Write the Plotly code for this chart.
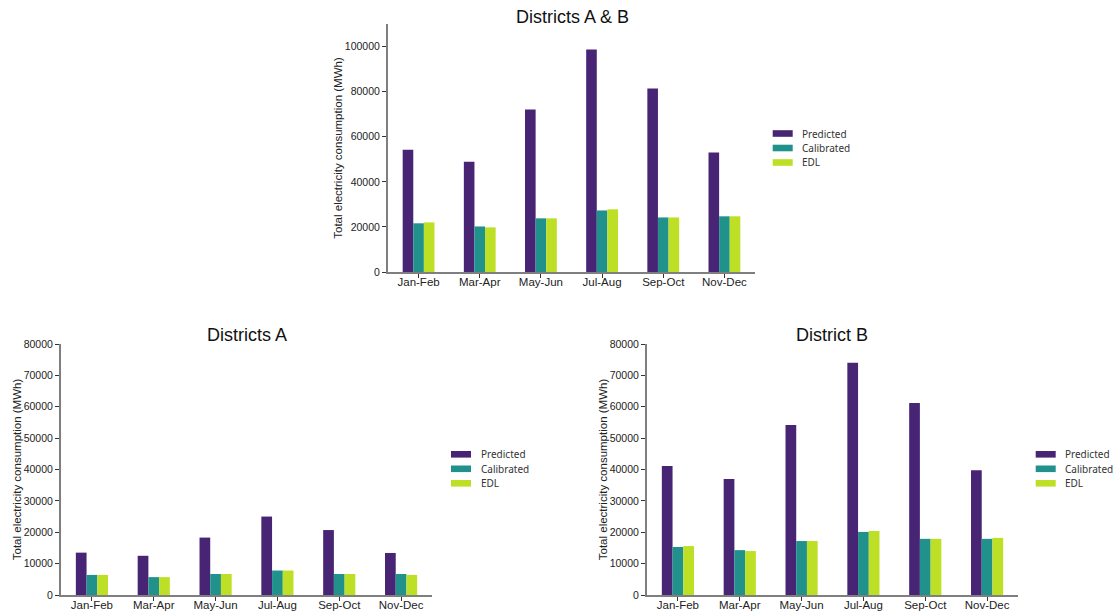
import plotly.graph_objects as go

periods = ["Jan-Feb", "Mar-Apr", "May-Jun", "Jul-Aug", "Sep-Oct", "Nov-Dec"]
series_names = ["Predicted", "Calibrated", "EDL"]
colors = ["#482475", "#21918c", "#bddf26"]

ab_predicted = [54200, 48900, 72100, 98700, 81400, 53000]
ab_calibrated = [21600, 20200, 23800, 27300, 24200, 24700]
ab_edl = [22000, 19800, 23800, 27800, 24200, 24700]

a_predicted = [13500, 12500, 18300, 25000, 20700, 13400]
a_calibrated = [6400, 5700, 6700, 7800, 6700, 6700]
a_edl = [6400, 5700, 6700, 7800, 6700, 6400]

b_predicted = [41100, 37000, 54200, 74000, 61200, 39800]
b_calibrated = [15300, 14300, 17200, 20100, 17900, 17900]
b_edl = [15600, 14000, 17200, 20400, 17900, 18200]

panels = [
    ("Districts A & B", [ab_predicted, ab_calibrated, ab_edl], "x", "y"),
    ("Districts A", [a_predicted, a_calibrated, a_edl], "x2", "y2"),
    ("District B", [b_predicted, b_calibrated, b_edl], "x3", "y3"),
]

fig = go.Figure()
for title, vals, xa, ya in panels:
    for name, v, c in zip(series_names, vals, colors):
        fig.add_trace(go.Bar(x=periods, y=v, name=name, marker=dict(color=c, line=dict(width=0)),
                             xaxis=xa, yaxis=ya, showlegend=False))

# The page body margin is removed (see post_script), so figure pixels == page pixels.
W, H = 1116, 612
def fx(x):
    return x / W
def fy(y):
    return 1 - y / H
def px(x0, x1):
    return [fx(x0), fx(x1)]
def py(top, bottom):
    return [fy(bottom), fy(top)]

FONT = "Liberation Sans, Arial, sans-serif"
line_common = dict(showline=True, linecolor="#7f7f7f", linewidth=2, ticks="outside",
                   ticklen=4, tickcolor="#333333", tickwidth=1, showgrid=False, zeroline=False,
                   automargin=False)
xaxis_common = dict(tickfont=dict(family=FONT, size=11.5, color="#222222"), ticklabelstandoff=-6,
                    **line_common)
yaxis_common = dict(tickfont=dict(family=FONT, size=10.5, color="#222222"), tickformat="d",
                    **line_common)
ytitle = dict(text="Total electricity consumption (MWh)",
              font=dict(family=FONT, size=11.5, color="#222222"), standoff=0)

fig.update_layout(
    width=W, height=H, margin=dict(l=0, r=0, t=0, b=0, autoexpand=False),
    paper_bgcolor="white", plot_bgcolor="white",
    barmode="group", bargap=0.48, bargroupgap=0,
    showlegend=False,
    xaxis=dict(domain=px(388, 755), anchor="y", **xaxis_common),
    yaxis=dict(domain=py(24, 272), anchor="x", range=[0, 110000], dtick=20000,
               title=ytitle, **yaxis_common),
    xaxis2=dict(domain=px(61, 432), anchor="y2", **xaxis_common),
    yaxis2=dict(domain=py(344, 595), anchor="x2", range=[0, 80000], dtick=10000,
                title=ytitle, **yaxis_common),
    xaxis3=dict(domain=px(647, 1018), anchor="y3", **xaxis_common),
    yaxis3=dict(domain=py(344, 595), anchor="x3", range=[0, 80000], dtick=10000,
                title=ytitle, **yaxis_common),
)

# Custom legends (swatch + label) next to each panel
legend_spots = [(772.7, 133.5), (451, 454.3), (1035.7, 454.3)]
for lx, ly in legend_spots:
    for i, (name, c) in enumerate(zip(series_names, colors)):
        cy = ly + i * 14.5
        fig.add_shape(type="rect", xref="paper", yref="paper",
                      x0=fx(lx), x1=fx(lx + 20), y0=fy(cy + 3.3), y1=fy(cy - 3.3),
                      fillcolor=c, line=dict(width=0))
        fig.add_annotation(text=name, x=fx(lx + 27.5), y=fy(cy), xref="paper", yref="paper",
                           showarrow=False, xanchor="left", yanchor="middle",
                           font=dict(family="Noto Sans", size=10, color="#333333"))

titles = [("Districts A & B", 572, 17), ("Districts A", 247, 335), ("District B", 832, 335)]
for t, x, y in titles:
    fig.add_annotation(text=t, x=fx(x), y=fy(y), xref="paper", yref="paper", showarrow=False,
                       xanchor="center", yanchor="middle",
                       font=dict(family=FONT, size=18, color="#111111"))

fig.write_html(
    "out.html",
    config={"displayModeBar": False},
    post_script="document.body.style.margin='0';document.documentElement.style.overflow='hidden';document.body.style.overflow='hidden';",
)
